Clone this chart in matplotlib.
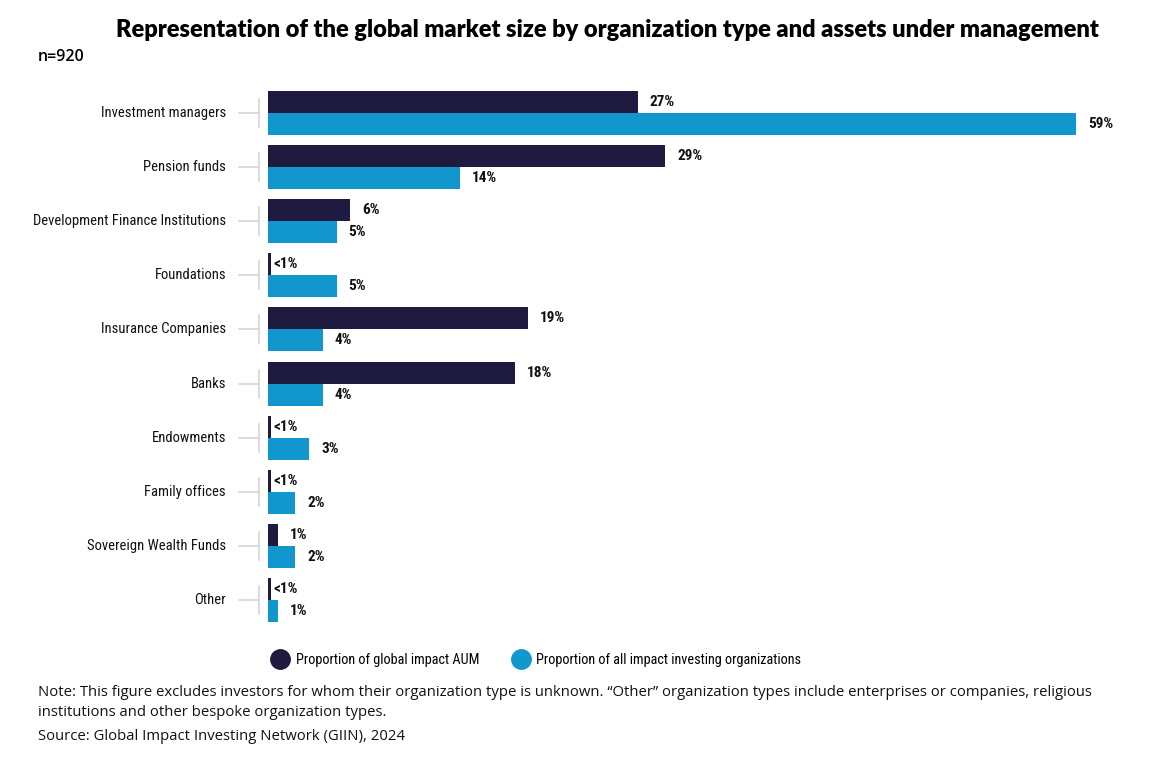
import matplotlib
matplotlib.use("Agg")
import matplotlib.pyplot as plt
from matplotlib import font_manager as fm
from matplotlib.lines import Line2D

# data
categories = ["Investment managers", "Pension funds", "Development Finance Institutions",
              "Foundations", "Insurance Companies", "Banks", "Endowments",
              "Family offices", "Sovereign Wealth Funds", "Other"]
aum = [27, 29, 6, 0.2, 19, 18, 0.2, 0.2, 0.7, 0.2]
aum_labels = ["27%", "29%", "6%", "<1%", "19%", "18%", "<1%", "<1%", "1%", "<1%"]
orgs = [59, 14, 5, 5, 4, 4, 3, 2, 2, 0.7]
org_labels = ["59%", "14%", "5%", "5%", "4%", "4%", "3%", "2%", "2%", "1%"]

dark = "#1f1a3f"
blue = "#1197cd"


def pick_narrow():
    # look for a narrow/condensed face among the installed fonts
    fonts = fm.fontManager.ttflist
    order = ["Roboto Condensed", "Liberation Sans Narrow", "Open Sans Condensed",
             "Noto Sans Condensed", "DejaVu Sans Condensed"]
    names = {f.name for f in fonts}
    for n in order:
        if n in names:
            return n, "normal"
    for fam in ["Noto Sans", "Open Sans", "Roboto", "Inter", "DejaVu Sans"]:
        for f in fonts:
            if f.name == fam and f.stretch in ("condensed", "semi-condensed", "extra-condensed", 75, 87.5):
                return fam, "condensed"
    return "DejaVu Sans", "condensed"


narrow, stretch = pick_narrow()

fig = plt.figure(figsize=(11.54, 7.64), dpi=100)
W, H = 1154, 764
ax = fig.add_axes([268 / W, 1 - 627 / H, 832 / W, (627 - 86) / H])
renderer = fig.canvas.get_renderer()


def fit_size(text, width_px, weight, start, cap):
    t = fig.text(0, 0, text, fontsize=start, family=narrow, fontstretch=stretch, fontweight=weight)
    w = t.get_window_extent(renderer).width
    t.remove()
    return min(cap, start * width_px / w)


cat_size = fit_size("Development Finance Institutions", 192, "normal", 12, 12.5)
val_size = fit_size("27%", 25, "bold", 11, 11)
leg_size = fit_size("Proportion of global impact AUM", 184, "normal", 12, 12.5)

h = 22 / 54
y = list(range(len(categories)))
ax.barh([i - h / 2 for i in y], aum, height=h, color=dark)
ax.barh([i + h / 2 for i in y], orgs, height=h, color=blue)

ax.set_xlim(0, 832 / 13.7)
ax.set_ylim(len(categories) - 0.5, -0.5)
ax.axis("off")

px = 1 / 13.7  # data units per pixel
tr = ax.get_yaxis_transform()
for i in y:
    for val, lab, off in ((aum[i], aum_labels[i], -h / 2), (orgs[i], org_labels[i], h / 2)):
        gap = 3 if lab.startswith("<") else 12
        ax.text(val + gap * px, i + off, lab, va="center", ha="left",
                fontsize=val_size, fontweight="bold", family=narrow, fontstretch=stretch,
                color="#111111")
    # little grey tick marks by the labels
    ax.plot([-9 / 832, -9 / 832], [i - 14 / 54, i + 14 / 54], transform=tr,
            color="#d6d6d6", lw=1.2, clip_on=False)
    ax.plot([-29 / 832, -9 / 832], [i, i], transform=tr,
            color="#d6d6d6", lw=1.2, clip_on=False)
    ax.text(-42 / 832, i, categories[i], transform=tr, ha="right", va="center",
            fontsize=cat_size, family=narrow, fontstretch=stretch, color="#111111")

fig.text(116 / W, 1 - 30 / H, "Representation of the global market size by organization type and assets under management",
         fontsize=17, fontweight="heavy", family=["Lato", "DejaVu Sans"], va="center", ha="left")
fig.text(38 / W, 1 - 57 / H, "n=920", fontsize=11.5, fontweight="semibold",
         family=["Open Sans", "DejaVu Sans"], va="center")

handles = [Line2D([], [], marker="o", ls="", color=dark, markersize=14),
           Line2D([], [], marker="o", ls="", color=blue, markersize=14)]
fig.legend(handles, ["Proportion of global impact AUM", "Proportion of all impact investing organizations"],
           loc="center left", bbox_to_anchor=(259 / W, 1 - 660 / H), ncol=2, frameon=False,
           handletextpad=0.5, columnspacing=2.3, handlelength=1.2,
           prop={"family": narrow, "stretch": stretch, "size": leg_size})

note_font = dict(fontsize=10.7, family=["Open Sans", "DejaVu Sans"], color="#111111", va="center")
fig.text(38 / W, 1 - 692 / H, "Note: This figure excludes investors for whom their organization type is unknown. \u201cOther\u201d organization types include enterprises or companies, religious", **note_font)
fig.text(38 / W, 1 - 712 / H, "institutions and other bespoke organization types.", **note_font)
fig.text(38 / W, 1 - 736 / H, "Source: Global Impact Investing Network (GIIN), 2024", **note_font)

fig.savefig("out.png", dpi=100)
